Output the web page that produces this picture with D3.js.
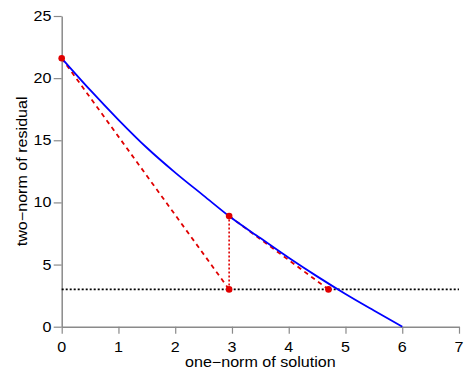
<!DOCTYPE html>
<html><head><meta charset="utf-8">
<script src="https://cdn.jsdelivr.net/npm/d3@7"></script>
<style>body{margin:0;background:#fff}svg{display:block}text{font-family:"Liberation Sans",Arial,Helvetica,sans-serif}</style>
</head><body>
<script>
const curveX = [0, 0.5, 1, 1.5, 2, 2.5, 3, 3.5, 4, 4.5, 5, 5.5, 6];
const curveY = [21.6, 19.05, 16.65, 14.4, 12.4, 10.55, 8.72, 7.13, 5.55, 4.05, 2.63, 1.3, 0];
const redPtX = [0, 2.95, 2.95, 4.7];
const redPtY = [21.6, 8.9, 3.0, 3.0];
const dashA = [[0, 21.6], [2.95, 3.0]];
const dashB = [[2.95, 8.9], [4.7, 3.0]];
const dotV = [[2.95, 3.0], [2.95, 8.9]];
const hLineY = 3.0;
const xTicks = [0, 1, 2, 3, 4, 5, 6, 7];
const yTicks = [0, 5, 10, 15, 20, 25];
const xLabel = "one\u2212norm of solution";
const yLabel = "two\u2212norm of residual";

const W = 469, H = 381;
const FS = 14, SX = 1.15;
const svg = d3.select("body").append("svg").attr("width", W).attr("height", H);
const x = d3.scaleLinear().domain([0, 7]).range([61.7, 459]);
const y = d3.scaleLinear().domain([0, 25]).range([326.7, 16]);
const grey = "#8a8a8a";

const xa = svg.append("g").attr("transform", `translate(0,${y(0)})`)
  .call(d3.axisBottom(x).tickValues(xTicks).tickSize(7).tickFormat("").tickSizeOuter(0));
const ya = svg.append("g").attr("transform", `translate(${x(0)},0)`)
  .call(d3.axisLeft(y).tickValues(yTicks).tickSize(8).tickFormat("").tickSizeOuter(0));
[xa, ya].forEach(a => {
  a.select(".domain").attr("stroke", grey).attr("stroke-width", 1.5);
  a.selectAll(".tick line").attr("stroke", grey).attr("stroke-width", 1.2);
  a.selectAll(".tick text").remove();
});

// tick labels
svg.append("g").selectAll("g").data(xTicks).enter().append("g")
  .attr("transform", d => `translate(${x(d)},352)`)
  .append("text").attr("transform", `scale(${SX},1)`).attr("text-anchor", "middle")
  .attr("font-size", FS).attr("fill", "#000").text(d => d3.format("d")(d));
svg.append("g").selectAll("g").data(yTicks).enter().append("g")
  .attr("transform", d => `translate(51.5,${y(d) + 5})`)
  .append("text").attr("transform", `scale(${SX},1)`).attr("text-anchor", "end")
  .attr("font-size", FS).attr("fill", "#000").text(d => d3.format("d")(d));

svg.append("g").attr("transform", `translate(${x(3.5)},367)`)
  .append("text").attr("transform", `scale(${SX},1)`).attr("text-anchor", "middle")
  .attr("font-size", FS).text(xLabel);
svg.append("g").attr("transform", `translate(26.5,${(y(0) + y(25)) / 2}) rotate(-90)`)
  .append("text").attr("transform", `scale(${SX},1)`).attr("text-anchor", "middle")
  .attr("font-size", FS).text(yLabel);

// horizontal dotted line
svg.append("line").attr("x1", x(0)).attr("x2", x(7)).attr("y1", y(hLineY)).attr("y2", y(hLineY))
  .attr("stroke", "#000").attr("stroke-width", 1.6).attr("stroke-dasharray", "2,2");

const red = "#e00000";
const ln = d3.line().x(d => x(d[0])).y(d => y(d[1]));
svg.append("path").attr("d", ln(dashA)).attr("fill", "none").attr("stroke", red)
  .attr("stroke-width", 1.8).attr("stroke-dasharray", "4.5,4");
svg.append("path").attr("d", ln(dashB)).attr("fill", "none").attr("stroke", red)
  .attr("stroke-width", 1.8).attr("stroke-dasharray", "4.5,4");
svg.append("path").attr("d", ln(dotV)).attr("fill", "none").attr("stroke", red)
  .attr("stroke-width", 1.6).attr("stroke-dasharray", "2,2");

const curve = d3.line().x((d, i) => x(curveX[i])).y((d, i) => y(curveY[i])).curve(d3.curveMonotoneX);
svg.append("path").attr("d", curve(curveX)).attr("fill", "none").attr("stroke", "#0000ff")
  .attr("stroke-width", 1.8);

svg.selectAll("circle.pt").data(redPtX).enter().append("circle").attr("class", "pt")
  .attr("cx", d => x(d)).attr("cy", (d, i) => y(redPtY[i])).attr("r", 3.3).attr("fill", red);
</script>
</body></html>
